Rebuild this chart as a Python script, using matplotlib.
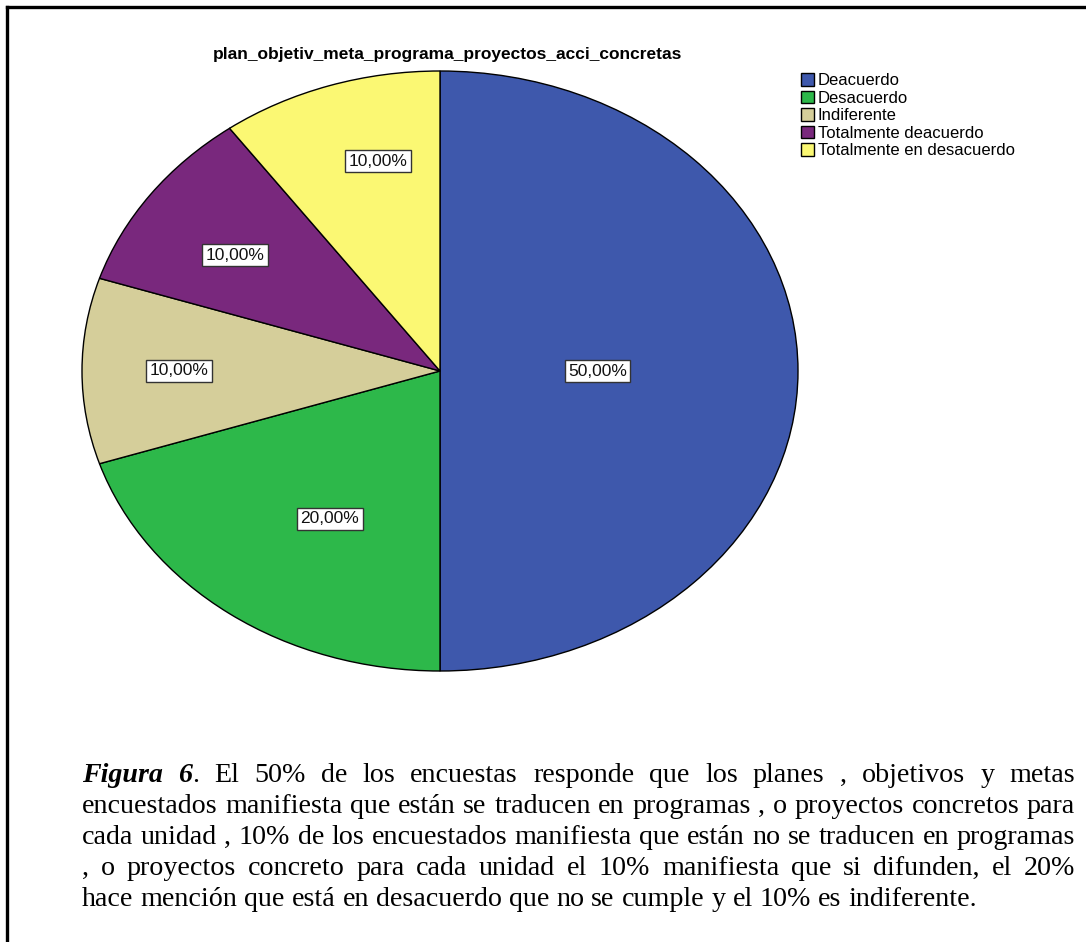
import numpy as np
import matplotlib
matplotlib.use("Agg")
import matplotlib.pyplot as plt
from matplotlib.lines import Line2D

# Survey answers
categories = ["Deacuerdo", "Desacuerdo", "Indiferente",
              "Totalmente deacuerdo", "Totalmente en desacuerdo"]
values = [50, 20, 10, 10, 10]
colors = ["#3E58AC", "#2DB84A", "#D5CE9A", "#79287D", "#FBF873"]

title = "plan_objetiv_meta_programa_proyectos_acci_concretas"

caption_lines = [
    "Figura 6. El 50% de los encuestas responde que los planes , objetivos y metas",
    "encuestados manifiesta que están se traducen en programas , o proyectos concretos para",
    "cada unidad , 10% de los encuestados manifiesta que están no se traducen en programas",
    ", o proyectos concreto para cada unidad el 10% manifiesta que si difunden, el 20%",
    "hace mención que está en desacuerdo que no se cumple y el 10% es indiferente.",
]

# Label placement inside each slice (fraction of radius, angular nudge in degrees)
label_radius = [0.44, 0.58, 0.73, 0.69, 0.72]
label_nudge = [0, 4, 0, 2, -4]

W, H = 1086, 942
fig = plt.figure(figsize=(W / 100, H / 100), dpi=100)
fig.patch.set_facecolor("white")

# Elliptical pie: axes box matches the ellipse extent
ax = fig.add_axes([82 / W, 1 - 671 / H, 716 / W, 600 / H])
wedges, _ = ax.pie(values, colors=colors, startangle=90, counterclock=False,
                   wedgeprops=dict(edgecolor="black", linewidth=1.0))
ax.set_aspect("auto")
ax.set_xlim(-1, 1)
ax.set_ylim(-1, 1)
for w in wedges:
    w.set_clip_on(False)

total = float(sum(values))
for w, v, r, dn in zip(wedges, values, label_radius, label_nudge):
    mid = np.radians(0.5 * (w.theta1 + w.theta2) + dn)
    label = f"{v / total * 100:.2f}".replace(".", ",") + "%"
    ax.text(r * np.cos(mid), r * np.sin(mid), label, ha="center", va="center",
            fontsize=12.5, family="Liberation Sans", color="#111111",
            bbox=dict(boxstyle="square,pad=0.2", facecolor="white",
                      edgecolor="#333333", linewidth=1.0))

fig.text(448 / W, 1 - 54 / H, title, ha="center", va="center",
         fontsize=12.5, fontweight="bold", family="Liberation Sans")

fig.legend(wedges, categories, loc="upper left",
           bbox_to_anchor=(801 / W, 1 - 73 / H), frameon=False,
           handlelength=0.75, handleheight=0.8, handletextpad=0.25,
           labelspacing=0.14, borderpad=0, borderaxespad=0,
           prop=dict(family="Liberation Sans", size=12))

# Frame lines (left and top)
fig.add_artist(Line2D([7 / W, 7 / W], [0, 1 - 7 / H], transform=fig.transFigure,
                      color="black", linewidth=2.4))
fig.add_artist(Line2D([7 / W, 1], [1 - 7 / H, 1 - 7 / H], transform=fig.transFigure,
                      color="black", linewidth=2.4))

# Justified caption
renderer = fig.canvas.get_renderer()
serif = "Liberation Serif"
left_px, right_px = 82, 1075
baselines = [782, 813, 844, 875, 906]


def run_style(bold_italic):
    if bold_italic:
        return dict(family=serif, fontweight="bold", fontstyle="italic")
    return dict(family=serif)


def measure(s, size, bold_italic=False):
    t = fig.text(0, 0, s, fontsize=size, **run_style(bold_italic))
    w = t.get_window_extent(renderer=renderer).width
    t.remove()
    return w


def split_runs(line_idx, line):
    words = []
    for i, wd in enumerate(line.split(" ")):
        if line_idx == 0 and i == 0:
            words.append([(wd, True)])
        elif line_idx == 0 and i == 1:
            words.append([("6", True), (".", False)])
        else:
            words.append([(wd, False)])
    return words


base_size = 10.0
natural = []
for li, line in enumerate(caption_lines):
    wl = split_runs(li, line)
    tot = sum(measure(s, base_size, b) for wd in wl for s, b in wd)
    tot += (len(wl) - 1) * measure("a a", base_size) - (len(wl) - 1) * measure("aa", base_size)
    natural.append(tot)
size = base_size * (right_px - left_px - 8) / max(natural)

space_w = measure("a a", size) - measure("aa", size)
for li, line in enumerate(caption_lines):
    wl = split_runs(li, line)
    widths = [[measure(s, size, b) for s, b in wd] for wd in wl]
    word_w = [sum(ws) for ws in widths]
    if li < len(caption_lines) - 1:
        gap = (right_px - left_px - sum(word_w)) / (len(wl) - 1)
    else:
        gap = space_w
    x = left_px
    y = 1 - baselines[li] / H
    for wd, ws in zip(wl, widths):
        xx = x
        for (s, b), w in zip(wd, ws):
            fig.text(xx / W, y, s, fontsize=size, ha="left", va="baseline",
                     **run_style(b))
            xx += w
        x += sum(ws) + gap

fig.savefig("out.png", dpi=100, facecolor="white")
